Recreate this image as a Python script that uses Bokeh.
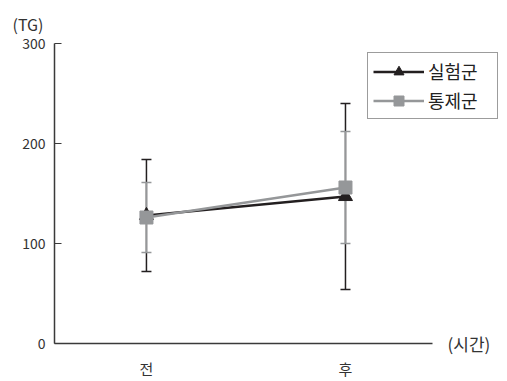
from bokeh.plotting import figure
from bokeh.models import (ColumnDataSource, Whisker, TeeHead, FixedTicker, Label,
                          Legend, LegendItem, Range1d, Title)
from bokeh.embed import file_html
from bokeh.resources import INLINE

categories = ["전", "후"]
exp_mean = [128, 147]
exp_sd = [56, 93]
ctl_mean = [126, 156]
ctl_sd = [35, 56]
y_ticks = [0, 100, 200, 300]

FONT = "Noto Sans CJK KR"
BLACK = "#231f20"
GRAY = "#959799"
AX = "#3a3a3a"

xs = list(range(len(categories)))

p = figure(frame_width=450, frame_height=300, output_backend="svg", toolbar_location=None,
           x_range=Range1d(-0.462, 1.799), y_range=Range1d(0, 300),
           min_border_left=54, min_border_right=0, min_border_top=43, min_border_bottom=30)
p.outline_line_color = None
p.grid.visible = False
p.background_fill_color = "white"

# axes
p.yaxis.ticker = FixedTicker(ticks=y_ticks)
p.yaxis.major_tick_in = 7
p.yaxis.major_tick_out = 0
p.yaxis.minor_tick_line_color = None
p.yaxis.axis_line_color = AX
p.yaxis.axis_line_width = 1.5
p.yaxis.major_tick_line_color = AX
p.yaxis.major_tick_line_width = 1.2
p.yaxis.major_label_text_font = FONT
p.yaxis.major_label_text_font_size = "14px"
p.yaxis.major_label_text_color = "#333333"
p.yaxis.major_label_standoff = 9

p.xaxis.ticker = FixedTicker(ticks=xs)
p.xaxis.bounds = (-0.462, 1.437)
p.xaxis.major_label_overrides = {i: c for i, c in enumerate(categories)}
p.xaxis.major_tick_line_color = None
p.xaxis.minor_tick_line_color = None
p.xaxis.axis_line_color = AX
p.xaxis.axis_line_width = 1.5
p.xaxis.major_label_text_font = FONT
p.xaxis.major_label_text_font_size = "15px"
p.xaxis.major_label_text_color = "#333333"
p.xaxis.major_label_standoff = 8

exp_src = ColumnDataSource(dict(x=xs, y=exp_mean,
                                lo=[m - s for m, s in zip(exp_mean, exp_sd)],
                                hi=[m + s for m, s in zip(exp_mean, exp_sd)]))
ctl_src = ColumnDataSource(dict(x=xs, y=ctl_mean,
                                lo=[m - s for m, s in zip(ctl_mean, ctl_sd)],
                                hi=[m + s for m, s in zip(ctl_mean, ctl_sd)]))

w1 = Whisker(source=exp_src, base="x", upper="hi", lower="lo", line_color=BLACK, line_width=1.5,
             upper_head=TeeHead(size=10, line_color=BLACK, line_width=1.5),
             lower_head=TeeHead(size=10, line_color=BLACK, line_width=1.5))
w2 = Whisker(source=ctl_src, base="x", upper="hi", lower="lo", line_color=GRAY, line_width=1.5,
             upper_head=TeeHead(size=10, line_color=GRAY, line_width=1.5),
             lower_head=TeeHead(size=10, line_color=GRAY, line_width=1.5))
p.add_layout(w1)
p.add_layout(w2)

l1 = p.line("x", "y", source=exp_src, line_color=BLACK, line_width=2.5)
m1 = p.scatter("x", "y", source=exp_src, marker="triangle", size=14, fill_color=BLACK, line_color=BLACK)
l2 = p.line("x", "y", source=ctl_src, line_color=GRAY, line_width=2.5)
m2 = p.scatter("x", "y", source=ctl_src, marker="square", size=13, fill_color=GRAY, line_color=GRAY)

legend = Legend(items=[LegendItem(label="실험군", renderers=[l1, m1]),
                       LegendItem(label="통제군", renderers=[l2, m2])],
                location=(313, 224))
legend.label_text_font = FONT
legend.label_text_font_size = "18px"
legend.label_text_color = "#222222"
legend.glyph_width = 51
legend.glyph_height = 25
legend.label_width = 64
legend.label_standoff = 4
legend.spacing = 3
legend.padding = 5
legend.margin = 0
legend.border_line_color = AX
legend.border_line_width = 1.2
legend.background_fill_alpha = 1
p.add_layout(legend, "center")

p.add_layout(Title(text="(TG)", align="left", offset=-42, text_font=FONT,
                   text_font_size="16px", text_color="#333333", text_font_style="normal",
                   standoff=15), "above")
p.add_layout(Label(x=1.513, y=0, text="(시간)", text_font=FONT, text_font_size="17px",
                   text_color="#333333", text_baseline="middle"), "below")

open("out.html", "w").write(file_html(p, INLINE))
